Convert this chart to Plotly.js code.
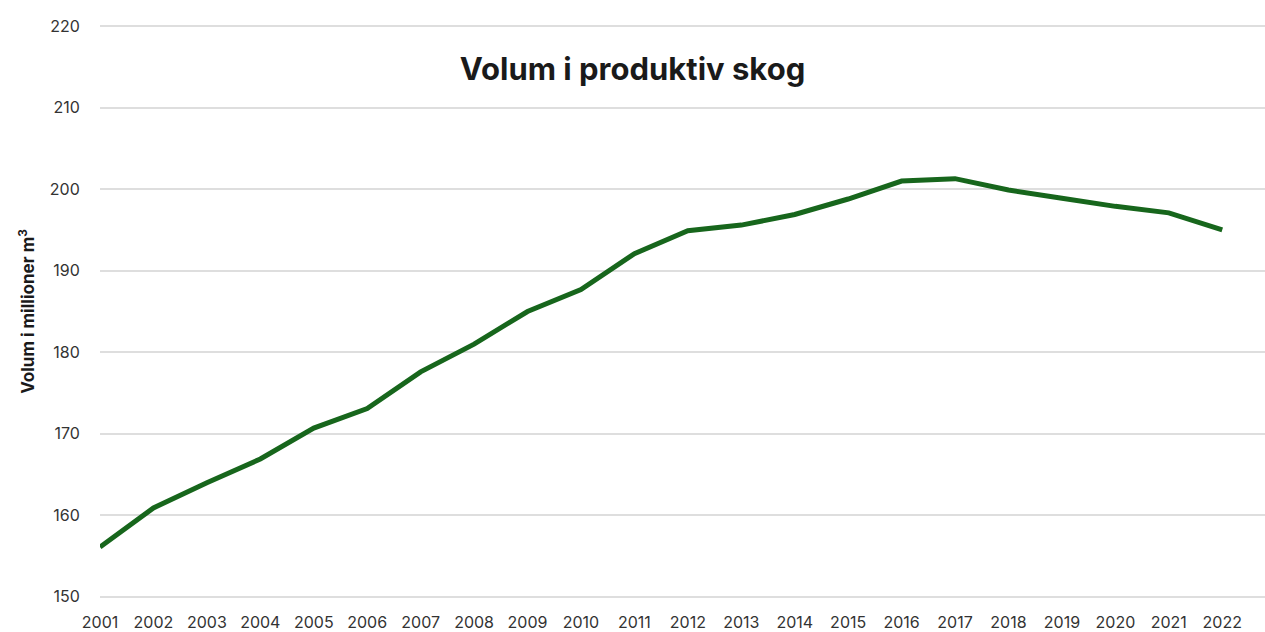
<!DOCTYPE html>
<html>
<head>
<meta charset="utf-8">
<script src="https://cdn.plot.ly/plotly-3.0.1.min.js"></script>
<style>html,body{margin:0;padding:0;background:#fff}#chart{width:1265px;height:632px}</style>
</head>
<body>
<div id="chart"></div>
<script>
const years = [2001,2002,2003,2004,2005,2006,2007,2008,2009,2010,2011,2012,2013,2014,2015,2016,2017,2018,2019,2020,2021,2022];
const volume = [156.1,160.9,164.0,166.9,170.7,173.1,177.6,181.0,185.0,187.7,192.1,194.9,195.6,196.9,198.8,201.0,201.3,199.9,198.9,197.9,197.1,195.0];
const yTicks = [150,160,170,180,190,200,210,220];
const chartTitle = "Volum i produktiv skog";
const yTitle = "Volum i millioner m<sup>3</sup>";

const trace = {
  x: years, y: volume, type: 'scatter', mode: 'lines',
  line: {color: '#17661c', width: 5},
  hoverinfo: 'x+y'
};
const layout = {
  width: 1265, height: 632,
  paper_bgcolor: '#fff', plot_bgcolor: '#fff',
  margin: {l: 100, r: 0, t: 25, b: 34},
  font: {family: 'Inter, "Open Sans", sans-serif', color: '#333'},
  title: {text: '<b>' + chartTitle + '</b>', font: {size: 31, color: '#1a1a1a'}, x: 0.5, xref: 'container', y: 1 - 69/632, yanchor: 'middle', xanchor: 'center'},
  showlegend: false,
  xaxis: {
    type: 'linear', range: [2001, 2022.8], tickvals: years, ticktext: years.map(String),
    showgrid: false, zeroline: false, showline: false,
    ticks: 'outside', ticklen: 10, tickcolor: 'rgba(0,0,0,0)',
    tickfont: {size: 16, color: '#333'}
  },
  yaxis: {
    range: [149.85, 220.15], tickvals: yTicks, ticktext: yTicks.map(String),
    showgrid: true, gridcolor: '#dedede', gridwidth: 2, zeroline: false, showline: false,
    ticks: 'outside', ticklen: 16, tickcolor: 'rgba(0,0,0,0)',
    tickfont: {size: 16, color: '#333'},
    title: {text: '<b>' + yTitle + '</b>', font: {size: 17, color: '#1a1a1a'}, standoff: 10}
  }
};
Plotly.newPlot('chart', [trace], layout, {displayModeBar: false, staticPlot: true});
</script>
</body>
</html>
